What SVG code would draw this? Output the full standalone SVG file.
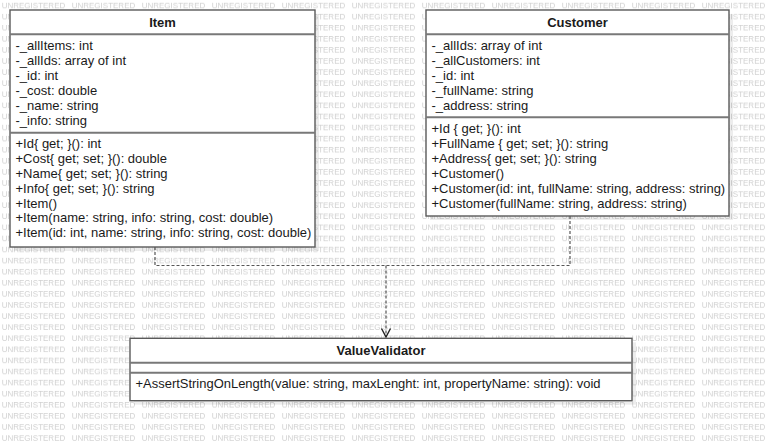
<svg xmlns="http://www.w3.org/2000/svg" width="770" height="442" viewBox="0 0 770 442">
<style>
.wm{font-family:"Liberation Sans",Arial,sans-serif;font-size:8px;fill:#d0d0d0}
.t{font-family:"Liberation Sans",Arial,sans-serif;font-size:13px;fill:#1a1a1a}
.h{font-family:"Liberation Sans",Arial,sans-serif;font-size:13px;font-weight:bold;fill:#1a1a1a;text-anchor:middle}
.box{fill:#ffffff;stroke:#5a5a5a;stroke-width:1.4}
.sh{fill:#000000;fill-opacity:0.07}
.sep{stroke:#787878;stroke-width:2}
.dep{fill:none;stroke:#555555;stroke-width:1.2;stroke-dasharray:3 2}
.arr{fill:none;stroke:#222222;stroke-width:1.4}
</style>
<defs>
<pattern id="wmp" patternUnits="userSpaceOnUse" x="0" y="0" width="70" height="11.09">
<text class="wm" x="1.7" y="8.2">UNREGISTERED</text>
</pattern>
</defs>
<rect width="770" height="442" fill="#ffffff"/>
<rect width="770" height="442" fill="url(#wmp)"/>
<g id="connectors">
<path class="dep" d="M155,247 V265.5 H570 V216"/>
<path class="dep" d="M386,265.5 V336"/>
<path class="arr" d="M381.5,328.5 L386,337 L390.5,328.5"/>
</g>
<g id="Item">
<rect class="sh" x="14" y="14" width="305" height="237"/>
<rect class="box" x="10" y="10" width="305" height="237"/>
<line class="sep" x1="10" y1="34.3" x2="315" y2="34.3"/>
<line class="sep" x1="10" y1="132.7" x2="315" y2="132.7"/>
<text class="h" x="162.5" y="27">Item</text>
<text class="t" x="15.5" y="49.5">-_allItems: int</text>
<text class="t" x="15.5" y="64.5">-_allIds: array of int</text>
<text class="t" x="15.5" y="79.5">-_id: int</text>
<text class="t" x="15.5" y="94.5">-_cost: double</text>
<text class="t" x="15.5" y="109.5">-_name: string</text>
<text class="t" x="15.5" y="124.5">-_info: string</text>
<text class="t" x="15.5" y="148.3">+Id{ get; }(): int</text>
<text class="t" x="15.5" y="163.1">+Cost{ get; set; }(): double</text>
<text class="t" x="15.5" y="177.9">+Name{ get; set; }(): string</text>
<text class="t" x="15.5" y="192.7">+Info{ get; set; }(): string</text>
<text class="t" x="15.5" y="207.5">+Item()</text>
<text class="t" x="15.5" y="222.3">+Item(name: string, info: string, cost: double)</text>
<text class="t" x="15.5" y="237.1">+Item(id: int, name: string, info: string, cost: double)</text>
</g>
<g id="Customer">
<rect class="sh" x="430" y="14" width="303" height="206"/>
<rect class="box" x="426" y="10" width="303" height="206"/>
<line class="sep" x1="426" y1="34.3" x2="729" y2="34.3"/>
<line class="sep" x1="426" y1="117.3" x2="729" y2="117.3"/>
<text class="h" x="577.5" y="27">Customer</text>
<text class="t" x="431.5" y="49.5">-_allIds: array of int</text>
<text class="t" x="431.5" y="64.5">-_allCustomers: int</text>
<text class="t" x="431.5" y="79.5">-_id: int</text>
<text class="t" x="431.5" y="94.5">-_fullName: string</text>
<text class="t" x="431.5" y="109.5">-_address: string</text>
<text class="t" x="431.5" y="132.6">+Id { get; }(): int</text>
<text class="t" x="431.5" y="147.6">+FullName { get; set; }(): string</text>
<text class="t" x="431.5" y="162.6">+Address{ get; set; }(): string</text>
<text class="t" x="431.5" y="177.6">+Customer()</text>
<text class="t" x="431.5" y="192.9">+Customer(id: int, fullName: string, address: string)</text>
<text class="t" x="431.5" y="208">+Customer(fullName: string, address: string)</text>
</g>
<g id="ValueValidator">
<rect class="sh" x="134" y="342.3" width="502" height="62.4"/>
<rect class="box" x="130" y="338.3" width="502" height="62.4"/>
<line class="sep" x1="130" y1="362.7" x2="632" y2="362.7"/>
<line class="sep" x1="130" y1="372.7" x2="632" y2="372.7"/>
<text class="h" x="381" y="355">ValueValidator</text>
<text class="t" x="135.5" y="387.6" textLength="465" lengthAdjust="spacingAndGlyphs">+AssertStringOnLength(value: string, maxLenght: int, propertyName: string): void</text>
</g>
</svg>
